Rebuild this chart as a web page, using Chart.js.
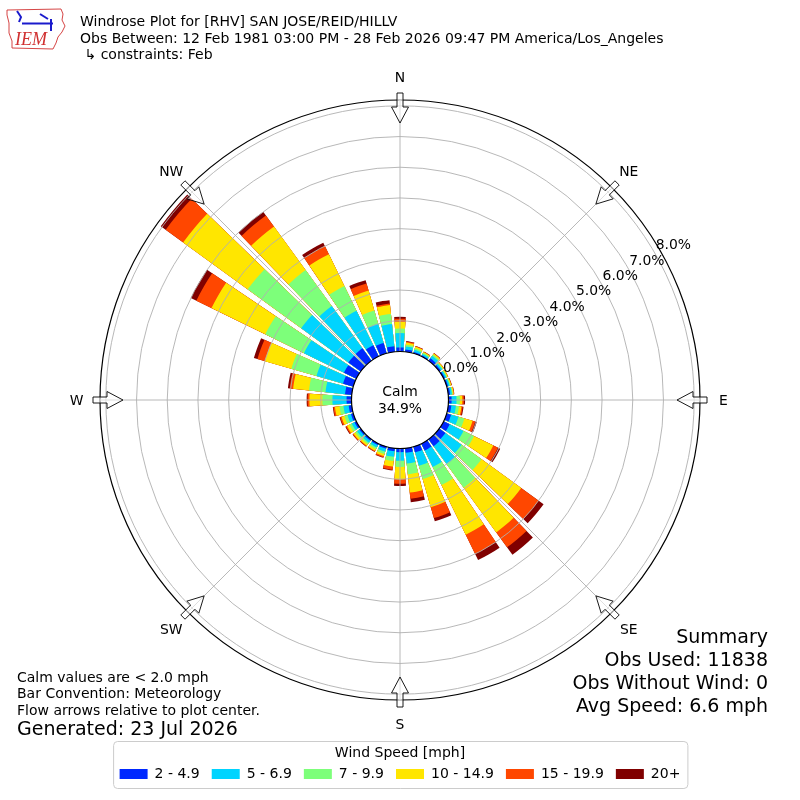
<!DOCTYPE html>
<html><head><meta charset="utf-8">
<script src="https://cdn.jsdelivr.net/npm/chart.js@4/dist/chart.umd.min.js"></script>
<style>html,body{margin:0;padding:0;background:#fff;overflow:hidden}canvas{display:block}</style>
</head><body>
<canvas id="c" width="800" height="800" style="width:800px;height:800px"></canvas>
<script>
// ---------- data ----------
const directions = [0,10,20,30,40,50,60,70,80,90,100,110,120,130,140,150,160,170,180,190,200,210,220,230,240,250,260,270,280,290,300,310,320,330,340,350];
const speedLabels = ['2 - 4.9','5 - 6.9','7 - 9.9','10 - 14.9','15 - 19.9','20+'];
const spd2_5  = [0.13,0.07,0.05,0.04,0.10,0.06,0.05,0.05,0.06,0.10,0.10,0.15,0.22,0.25,0.28,0.25,0.20,0.15,0.12,0.10,0.07,0.06,0.06,0.06,0.07,0.08,0.10,0.16,0.22,0.35,0.45,0.50,0.50,0.40,0.35,0.18];
const spd5_7  = [0.47,0.10,0.07,0.05,0.10,0.06,0.05,0.05,0.06,0.16,0.15,0.25,0.50,0.65,0.72,0.60,0.45,0.35,0.28,0.18,0.10,0.08,0.08,0.09,0.10,0.12,0.17,0.46,0.64,0.90,1.45,1.90,1.70,1.25,0.65,0.73];
const spd7_10 = [0.15,0.06,0.05,0.04,0.05,0.03,0.03,0.03,0.03,0.11,0.10,0.20,0.38,0.80,0.95,0.65,0.45,0.35,0.20,0.14,0.08,0.06,0.06,0.07,0.08,0.10,0.13,0.33,0.54,0.85,1.40,2.15,1.45,0.90,0.45,0.33];
const spd10_15= [0.22,0.07,0.05,0.03,0.04,0.03,0.03,0.03,0.03,0.08,0.08,0.28,0.70,1.60,1.80,1.80,0.95,0.60,0.40,0.18,0.07,0.06,0.06,0.07,0.09,0.10,0.15,0.42,0.52,0.90,1.95,2.60,1.75,1.15,0.68,0.29];
const spd15_20= [0.10,0.03,0.02,0.01,0.01,0.01,0.01,0.01,0.01,0.05,0.04,0.09,0.17,0.70,0.60,0.70,0.37,0.20,0.15,0.10,0.04,0.03,0.03,0.03,0.04,0.05,0.05,0.06,0.11,0.25,0.55,0.70,0.45,0.30,0.24,0.05];
const spd20p  = [0.06,0.02,0.01,0.01,0.01,0.00,0.00,0.01,0.01,0.04,0.03,0.05,0.08,0.20,0.30,0.22,0.11,0.12,0.07,0.03,0.02,0.01,0.01,0.01,0.02,0.02,0.02,0.03,0.06,0.12,0.20,0.20,0.15,0.12,0.11,0.11];
const radialTicks = [0,1,2,3,4,5,6,7,8];
const calmPercent = 34.9;
const compassLabels = ['N','NE','E','SE','S','SW','W','NW'];
const titleLines = ['Windrose Plot for [RHV] SAN JOSE/REID/HILLV','Obs Between: 12 Feb 1981 03:00 PM - 28 Feb 2026 09:47 PM America/Los_Angeles',' \u21b3 constraints: Feb'];
const summaryLines = ['Summary','Obs Used: 11838','Obs Without Wind: 0','Avg Speed: 6.6 mph'];
const noteLines = ['Calm values are < 2.0 mph','Bar Convention: Meteorology','Flow arrows relative to plot center.'];
const generatedText = 'Generated: 23 Jul 2026';
const legendTitle = 'Wind Speed [mph]';

// ---------- styles ----------
const speedColors = ['#0028ff','#00d4ff','#7dff7a','#ffe600','#ff4700','#800000'];
const BAR_DEG = 8, GAP_DEG = 2;
const RMIN = -1.58, RMAX = 8.19;
const FONT = '"DejaVu Sans"';

// ---------- build ----------
const binSeries = [spd2_5, spd5_7, spd7_10, spd10_15, spd15_20, spd20p];
const cumulative = binSeries.map((_, k) => directions.map((d, i) => {
  let s = 0; for (let j = 0; j <= k; j++) s += binSeries[j][i]; return Math.round(s * 1000) / 1000;
}));
const labels = directions.flatMap(d => [d + '\u00b0', '']);
const datasets = speedLabels.map((lab, k) => ({
  label: lab,
  data: cumulative[k].flatMap(v => [v, null]),
  backgroundColor: (c) => (c.dataIndex % 2 === 0 ? speedColors[k] : 'rgba(0,0,0,0)'),
  borderWidth: 0,
  angle: (c) => (c.dataIndex % 2 === 0 ? BAR_DEG : GAP_DEG)
}));

const decor = {
  id: 'decor',
  afterDraw(chart) {
    const ctx = chart.ctx;
    const s = chart.scales.r;
    const xc = s.xCenter, yc = s.yCenter;
    const R = v => s.getDistanceFromCenterForValue(v);
    const outer = s.drawingArea;
    const r0 = R(0);
    const pt = (deg, r) => { const a = (deg - 90) * Math.PI / 180; return [xc + r * Math.cos(a), yc + r * Math.sin(a)]; };
    ctx.save();
    // spokes
    ctx.strokeStyle = '#b0b0b0'; ctx.lineWidth = 0.9;
    for (let k = 0; k < 8; k++) {
      const [x1, y1] = pt(k * 45, r0), [x2, y2] = pt(k * 45, outer);
      ctx.beginPath(); ctx.moveTo(x1, y1); ctx.lineTo(x2, y2); ctx.stroke();
    }
    // calm circle
    ctx.beginPath(); ctx.arc(xc, yc, r0, 0, Math.PI * 2);
    ctx.fillStyle = '#fff'; ctx.fill();
    ctx.strokeStyle = '#000'; ctx.lineWidth = 1.2; ctx.stroke();
    ctx.fillStyle = '#000'; ctx.textAlign = 'center'; ctx.textBaseline = 'alphabetic';
    ctx.font = '13.9px ' + FONT;
    ctx.fillText('Calm', xc, yc - 4);
    ctx.fillText(calmPercent.toFixed(1) + '%', xc, yc + 12.7);
    // radial tick labels at 60 deg compass
    ctx.textAlign = 'left';
    radialTicks.forEach(v => {
      const [x, y] = pt(60, R(v));
      ctx.fillText(v.toFixed(1) + '%', x + 1, y - 3.5);
    });
    // arrows
    for (let k = 0; k < 8; k++) {
      const a = (k * 45 - 90) * Math.PI / 180;
      const ux = Math.cos(a), uy = Math.sin(a), px = -uy, py = ux;
      const P = (r, w) => [xc + ux * r + px * w, yc + uy * r + py * w];
      const tail = outer + 7, base = outer - 7, tip = outer - 23, hw = 8.5, sw = 3;
      const poly = [P(tail, -sw), P(base, -sw), P(base, -hw), P(tip, 0), P(base, hw), P(base, sw), P(tail, sw)];
      ctx.beginPath(); ctx.moveTo(poly[0][0], poly[0][1]);
      for (let i = 1; i < poly.length; i++) ctx.lineTo(poly[i][0], poly[i][1]);
      ctx.closePath();
      ctx.fillStyle = 'rgba(255,255,255,0.55)'; ctx.fill();
      ctx.strokeStyle = '#000'; ctx.lineWidth = 0.9; ctx.stroke();
    }
    // compass labels
    ctx.fillStyle = '#000'; ctx.textAlign = 'center'; ctx.font = '13.9px ' + FONT;
    compassLabels.forEach((t, k) => {
      const [x, y] = pt(k * 45, outer + 23.5);
      ctx.fillText(t, x, y + 5);
    });
    // title
    ctx.textAlign = 'left';
    ctx.font = '14.03px ' + FONT;
    ctx.fillText(titleLines[0], 80, 25.5);
    ctx.fillText(titleLines[1], 80, 43.3);
    ctx.fillText(titleLines[2], 80, 59);
    // notes
    ctx.font = '14px ' + FONT;
    noteLines.forEach((t, i) => ctx.fillText(t, 17, 681.5 + i * 16.5));
    ctx.font = '19px ' + FONT;
    ctx.fillText(generatedText, 17, 735);
    // summary
    ctx.textAlign = 'right';
    summaryLines.forEach((t, i) => ctx.fillText(t, 768, 642.5 + i * 23));
    // legend frame
    const lg = chart.legend;
    if (lg && lg.legendHitBoxes && lg.legendHitBoxes.length) {
      const hb = lg.legendHitBoxes;
      const l = hb[0].left - 6.5, r = hb[hb.length - 1].left + hb[hb.length - 1].width + 7;
      const t = lg.top + 1, b = lg.bottom - 3;
      ctx.beginPath(); ctx.roundRect(l + 0.5, t + 0.5, r - l, b - t, 4);
      ctx.strokeStyle = '#cccccc'; ctx.lineWidth = 1; ctx.stroke();
    }
    // logo
    ctx.beginPath();
    const outline = [[7,10],[61,9],[63,14],[62,20],[65,26],[62,32],[58,37],[56,43],[53,49],[12,48],[12,41],[9,33],[9,23],[7,15]];
    ctx.moveTo(outline[0][0], outline[0][1]);
    outline.slice(1).forEach(p => ctx.lineTo(p[0], p[1]));
    ctx.closePath(); ctx.strokeStyle = '#d03030'; ctx.lineWidth = 0.9; ctx.stroke();
    ctx.strokeStyle = '#1a1acc'; ctx.lineWidth = 2;
    ctx.beginPath(); ctx.moveTo(22, 23.5); ctx.lineTo(53, 23.5); ctx.stroke();
    ctx.beginPath(); ctx.moveTo(40, 14); ctx.lineTo(48, 19); ctx.stroke();
    ctx.beginPath(); ctx.moveTo(17, 11); ctx.lineTo(21, 17); ctx.lineTo(19, 22); ctx.stroke();
    ctx.beginPath(); ctx.moveTo(51, 19); ctx.lineTo(51, 31); ctx.stroke();
    ctx.fillStyle = '#d03030'; ctx.font = 'italic 18px "Liberation Serif"'; ctx.textAlign = 'left';
    ctx.fillText('IEM', 15, 45);
    ctx.restore();
  }
};

Chart.defaults.font.family = FONT;
Chart.defaults.color = '#000';
new Chart(document.getElementById('c'), {
  type: 'polarArea',
  data: { labels, datasets },
  plugins: [decor],
  options: {
    responsive: false,
    devicePixelRatio: 1,
    animation: false,
    layout: { padding: { top: 60, left: 100, right: 100, bottom: 9 } },
    scales: {
      r: {
        type: 'radialLinear',
        min: RMIN, max: RMAX,
        startAngle: -BAR_DEG / 2,
        ticks: { display: false, stepSize: 1 },
        afterBuildTicks: (scale) => { scale.ticks = radialTicks.concat([RMAX]).map(v => ({ value: v })); },
        grid: {
          circular: true, z: 1,
          color: (c) => (c.tick && c.tick.value === RMAX ? '#000' : (c.tick && c.tick.value === 0 ? 'rgba(0,0,0,0)' : '#b0b0b0')),
          lineWidth: (c) => (c.tick && c.tick.value === RMAX ? 1.2 : 0.9)
        },
        angleLines: { display: false },
        pointLabels: { display: false }
      }
    },
    plugins: {
      tooltip: { enabled: false },
      legend: {
        position: 'bottom',
        labels: {
          boxWidth: 28, boxHeight: 10, padding: 12, color: '#000',
          font: { size: 14 },
          generateLabels: (chart) => chart.data.datasets.map((ds, i) => ({
            text: ds.label, fillStyle: speedColors[i], strokeStyle: speedColors[i], lineWidth: 0, hidden: false, datasetIndex: i
          }))
        },
        title: { display: true, text: legendTitle, color: '#000', font: { size: 14, lineHeight: 0.5 }, padding: { top: 6, bottom: 2 } }
      }
    }
  }
});
</script>
</body></html>
